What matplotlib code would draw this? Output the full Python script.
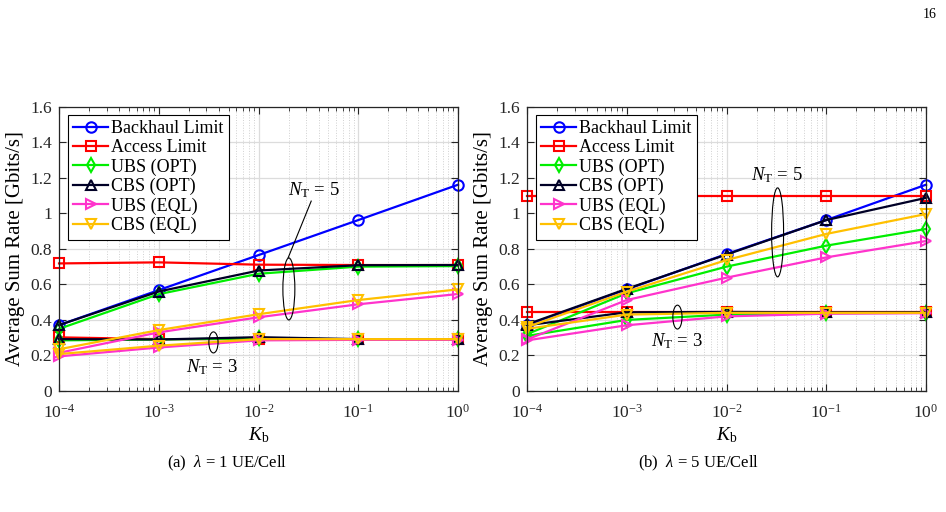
import matplotlib
matplotlib.use("Agg")
import matplotlib.pyplot as plt
from matplotlib.patches import Ellipse

plt.rcParams['font.family'] = ['Liberation Serif', 'DejaVu Serif']
plt.rcParams['mathtext.fontset'] = 'custom'
plt.rcParams['mathtext.rm'] = 'Liberation Serif'
plt.rcParams['mathtext.it'] = 'Liberation Serif:italic'

# x values (K_b)
kb = [1e-4, 1e-3, 1e-2, 1e-1, 1e0]
xtick_labels = [r'$10^{-4}$', r'$10^{-3}$', r'$10^{-2}$', r'$10^{-1}$', r'$10^{0}$']

# (a) lambda = 1 UE/Cell
backhaul_a = [0.371, 0.568, 0.765, 0.962, 1.161]
access5_a = [0.718, 0.724, 0.711, 0.709, 0.709]
access3_a = [0.302, 0.292, 0.292, 0.290, 0.290]
ubs_opt5_a = [0.350, 0.545, 0.660, 0.700, 0.703]
cbs_opt5_a = [0.371, 0.560, 0.678, 0.708, 0.709]
ubs_eql5_a = [0.215, 0.330, 0.415, 0.488, 0.546]
cbs_eql5_a = [0.235, 0.343, 0.432, 0.512, 0.572]
ubs_opt3_a = [0.285, 0.290, 0.296, 0.290, 0.290]
cbs_opt3_a = [0.292, 0.290, 0.303, 0.292, 0.292]
ubs_eql3_a = [0.195, 0.245, 0.285, 0.288, 0.288]
cbs_eql3_a = [0.208, 0.255, 0.292, 0.292, 0.292]

# (b) lambda = 5 UE/Cell
backhaul_b = [0.371, 0.572, 0.771, 0.962, 1.161]
access5_b = [1.098, 1.098, 1.098, 1.098, 1.098]
access3_b = [0.443, 0.443, 0.443, 0.443, 0.443]
ubs_opt5_b = [0.320, 0.550, 0.700, 0.818, 0.912]
cbs_opt5_b = [0.375, 0.575, 0.768, 0.962, 1.087]
ubs_eql5_b = [0.290, 0.512, 0.638, 0.752, 0.844]
cbs_eql5_b = [0.360, 0.559, 0.737, 0.884, 0.996]
ubs_opt3_b = [0.310, 0.400, 0.430, 0.438, 0.440]
cbs_opt3_b = [0.370, 0.443, 0.445, 0.443, 0.443]
ubs_eql3_b = [0.285, 0.370, 0.420, 0.435, 0.438]
cbs_eql3_b = [0.350, 0.430, 0.440, 0.440, 0.440]

labels = ['Backhaul Limit', 'Access Limit', 'UBS (OPT)', 'CBS (OPT)',
          'UBS (EQL)', 'CBS (EQL)']
colors = ['#0000ff', '#ff0000', '#00ee00', '#000026', '#ff33cc', '#ffc000']
markers = ['o', 's', 'd', '^', '>', 'v']
yticks = [0, 0.2, 0.4, 0.6, 0.8, 1, 1.2, 1.4, 1.6]
ytick_labels = ['0', '0.2', '0.4', '0.6', '0.8', '1', '1.2', '1.4', '1.6']

panels = [
    dict(left=0.0624, nt5=[backhaul_a, access5_a, ubs_opt5_a, cbs_opt5_a, ubs_eql5_a, cbs_eql5_a],
         nt3=[None, access3_a, ubs_opt3_a, cbs_opt3_a, ubs_eql3_a, cbs_eql3_a],
         caption=r'(a)  $\lambda$ = 1 UE/Cell', capx=0.240,
         e5=(0.576, 0.359, 0.030, 0.218), e3=(0.387, 0.171, 0.023, 0.074),
         t5=(0.638, 0.707), t3=(0.384, 0.084), line5=True),
    dict(left=0.5571, nt5=[backhaul_b, access5_b, ubs_opt5_b, cbs_opt5_b, ubs_eql5_b, cbs_eql5_b],
         nt3=[None, access3_b, ubs_opt3_b, cbs_opt3_b, ubs_eql3_b, cbs_eql3_b],
         caption=r'(b)  $\lambda$ = 5 UE/Cell', capx=0.738,
         e5=(0.628, 0.558, 0.030, 0.313), e3=(0.377, 0.260, 0.023, 0.084),
         t5=(0.627, 0.760), t3=(0.376, 0.176), line5=False),
]

fig = plt.figure(figsize=(9.46, 5.12), dpi=100)

for p in panels:
    ax = fig.add_axes([p['left'], 0.2363, 0.4218, 0.5553])
    handles = []
    for i in range(6):
        st = dict(color=colors[i], marker=markers[i], mfc='none', ms=7.5,
                  mew=1.5, lw=1.6, clip_on=False)
        h, = ax.plot(kb, p['nt5'][i], label=labels[i], **st)
        handles.append(h)
        if p['nt3'][i] is not None:
            ax.plot(kb, p['nt3'][i], **st)

    ax.set_xscale('log')
    ax.set_xlim(1e-4, 1)
    ax.set_ylim(0, 1.6)
    ax.set_xticks(kb)
    ax.set_xticklabels(xtick_labels)
    ax.set_yticks(yticks)
    ax.set_yticklabels(ytick_labels)
    ax.grid(True, which='major', color='#dcdcdc', lw=0.9)
    ax.grid(True, which='minor', axis='x', color='#d0d0d0', lw=0.7, ls=':')
    ax.set_axisbelow(True)
    ax.tick_params(which='both', direction='in', top=True, right=True,
                   labelsize=12.5, colors='#262626')
    ax.tick_params(axis='x', which='major', pad=9)
    ax.tick_params(axis='y', which='major', pad=5)
    ax.tick_params(which='major', length=5)
    ax.tick_params(which='minor', length=3)
    for s in ax.spines.values():
        s.set_color('#262626')
        s.set_linewidth(0.9)
    ax.set_ylabel('Average Sum Rate [Gbits/s]', fontsize=15, labelpad=4)
    ax.set_xlabel(r'$K_{\mathrm{b}}$', fontsize=14, labelpad=3)

    leg = ax.legend(handles=handles, loc='upper left',
                    bbox_to_anchor=(9 / 399, 1 - 8 / 284.3), borderaxespad=0,
                    fontsize=13, labelspacing=0.12, handlelength=1.9,
                    handletextpad=0.2, borderpad=0.3, fancybox=False,
                    framealpha=1, edgecolor='black')
    leg.get_frame().set_linewidth(0.8)
    leg.set_zorder(10)

    for (cx, cy, w, h) in (p['e5'], p['e3']):
        ax.add_patch(Ellipse((cx, cy), w, h, transform=ax.transAxes,
                             fill=False, ec='black', lw=0.8, zorder=5))
    ax.text(p['t5'][0], p['t5'][1], r'$N_{\mathrm{T}}$ = 5', transform=ax.transAxes,
            ha='center', va='center', fontsize=13.5, zorder=6)
    ax.text(p['t3'][0], p['t3'][1], r'$N_{\mathrm{T}}$ = 3', transform=ax.transAxes,
            ha='center', va='center', fontsize=13.5, zorder=6)
    if p['line5']:
        ax.plot([0.574, 0.632], [0.468, 0.668], transform=ax.transAxes,
                color='black', lw=0.8, zorder=5)

    fig.text(p['capx'], 0.0957, p['caption'], ha='center', va='center',
             fontsize=12)

fig.text(0.990, 0.972, '16', ha='right', va='center', fontsize=10)

fig.savefig('out.png', dpi=100)
